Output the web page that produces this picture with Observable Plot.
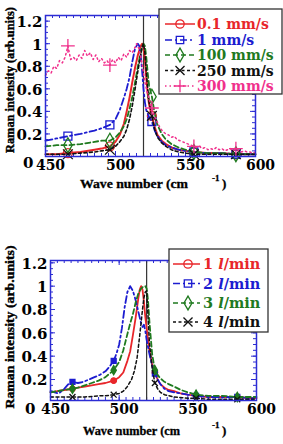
<!DOCTYPE html>
<html><head><meta charset="utf-8">
<script src="https://cdn.jsdelivr.net/npm/d3@7"></script>
<script src="https://cdn.jsdelivr.net/npm/@observablehq/plot@0.6"></script>
<style>
body{margin:0;background:#fff}
#wrap{position:relative;width:283px;height:444px;overflow:hidden;background:#fff}
.pl{position:absolute;left:0}
svg{display:block}
</style>
</head><body>
<div id="wrap"><div id="p1" class="pl" style="top:0"></div><div id="p2" class="pl" style="top:220px"></div></div>
<script>
// ---------- data ----------
const markerX = [466, 496, 526, 556, 586];
const xTicks = [450, 500, 550, 600];
const yTicks = [0.2, 0.4, 0.6, 0.8, 1, 1.2];
const peakLine = [520];

const topLabels = ["0.1 mm/s", "1 mm/s", "100 mm/s", "250 mm/s", "300 mm/s"];
const botLabels = ["1 l/min", "2 l/min", "3 l/min", "4 l/min"];

const speed01 = [[450,0.02],[458,0.02],[466,0.03],[475,0.04],[485,0.06],[490,0.07],[496,0.09],[500,0.13],[503,0.19],[506,0.29],[508,0.4],[510,0.52],[512,0.66],[514,0.79],[516,0.9],[518,0.98],[519,1.0],[520,0.97],[521,0.86],[522,0.7],[523,0.56],[524,0.46],[526,0.36],[528,0.26],[530,0.19],[533,0.14],[536,0.11],[540,0.08],[545,0.06],[550,0.05],[556,0.04],[565,0.03],[575,0.03],[586,0.02],[600,0.02]];
const speed1 = [[450,0.14],[458,0.16],[466,0.18],[475,0.2],[485,0.23],[490,0.25],[496,0.28],[500,0.33],[503,0.41],[506,0.52],[508,0.6],[510,0.7],[512,0.84],[514,0.96],[516,1.0],[517,0.98],[518,0.9],[519,0.76],[520,0.6],[521,0.48],[522,0.41],[524,0.35],[526,0.31],[528,0.23],[530,0.18],[533,0.13],[536,0.1],[540,0.08],[545,0.06],[550,0.05],[556,0.04],[565,0.03],[575,0.03],[586,0.02],[600,0.02]];
const speed100 = [[450,0.09],[458,0.1],[466,0.1],[475,0.11],[485,0.13],[490,0.14],[496,0.14],[500,0.17],[503,0.21],[506,0.27],[508,0.33],[510,0.42],[512,0.53],[514,0.66],[516,0.8],[518,0.92],[519,0.97],[520,1.0],[521,0.98],[522,0.88],[523,0.74],[524,0.63],[526,0.53],[528,0.38],[530,0.28],[533,0.2],[536,0.15],[540,0.11],[545,0.08],[550,0.06],[556,0.04],[565,0.03],[575,0.03],[586,0.02],[600,0.02]];
const speed250 = [[450,0.02],[458,0.02],[466,0.02],[475,0.03],[485,0.04],[490,0.05],[496,0.06],[500,0.09],[503,0.13],[506,0.18],[508,0.24],[510,0.33],[512,0.45],[514,0.6],[516,0.76],[518,0.9],[519,0.97],[520,1.0],[521,0.92],[522,0.75],[523,0.6],[524,0.48],[526,0.36],[528,0.24],[530,0.17],[533,0.12],[536,0.09],[540,0.06],[545,0.04],[550,0.03],[556,0.02],[565,0.02],[575,0.02],[586,0.02],[600,0.02]];
const speed300 = [[450,0.72],[452,0.76],[454,0.74],[456,0.8],[458,0.78],[460,0.85],[462,0.83],[464,0.88],[466,0.98],[468,0.86],[470,0.88],[472,0.85],[474,0.9],[476,0.87],[478,0.94],[480,0.89],[482,0.92],[484,0.86],[486,0.9],[488,0.84],[490,0.87],[492,0.83],[494,0.85],[496,0.81],[498,0.86],[500,0.83],[502,0.88],[504,0.85],[506,0.91],[508,0.88],[510,0.94],[512,0.92],[514,0.97],[515,1.0],[517,0.95],[519,0.82],[521,0.66],[523,0.55],[525,0.47],[526,0.43],[528,0.35],[530,0.3],[532,0.25],[534,0.22],[536,0.2],[538,0.19],[540,0.17],[542,0.18],[544,0.15],[546,0.14],[548,0.13],[550,0.12],[552,0.11],[554,0.1],[556,0.09],[558,0.08],[560,0.09],[562,0.07],[564,0.08],[566,0.06],[568,0.07],[570,0.06],[572,0.08],[574,0.06],[576,0.07],[578,0.05],[580,0.06],[582,0.07],[584,0.05],[586,0.07],[588,0.05],[590,0.04],[592,0.05],[594,0.04],[596,0.04],[598,0.03],[600,0.04]];

const flow1 = [[450,0.09],[455,0.1],[460,0.11],[466,0.12],[470,0.13],[475,0.14],[480,0.15],[485,0.16],[490,0.17],[496,0.19],[500,0.22],[503,0.26],[506,0.36],[508,0.44],[510,0.58],[512,0.73],[514,0.9],[515,0.97],[516,1.0],[517,0.97],[518,0.87],[519,0.74],[520,0.64],[522,0.45],[524,0.33],[526,0.26],[528,0.2],[530,0.16],[533,0.13],[536,0.11],[540,0.1],[545,0.08],[550,0.07],[556,0.06],[565,0.05],[575,0.05],[586,0.05],[595,0.04],[600,0.04]];
const flow2 = [[450,0.1],[453,0.09],[456,0.08],[460,0.12],[463,0.16],[466,0.18],[470,0.17],[474,0.18],[478,0.2],[482,0.22],[486,0.24],[490,0.27],[493,0.31],[496,0.36],[498,0.42],[500,0.5],[502,0.64],[504,0.82],[506,0.95],[508,1.0],[510,0.96],[512,0.88],[514,0.78],[516,0.68],[517,0.65],[518,0.67],[519,0.62],[520,0.54],[522,0.42],[524,0.32],[526,0.25],[528,0.2],[530,0.16],[533,0.12],[536,0.1],[540,0.09],[545,0.08],[550,0.07],[556,0.06],[565,0.05],[575,0.05],[586,0.05],[595,0.04],[600,0.04]];
const flow3 = [[450,0.09],[455,0.1],[460,0.11],[466,0.12],[470,0.13],[475,0.15],[480,0.17],[485,0.19],[490,0.22],[496,0.28],[500,0.35],[503,0.45],[506,0.59],[508,0.68],[510,0.76],[512,0.86],[514,0.94],[516,0.98],[518,1.0],[519,1.0],[520,0.98],[521,0.88],[522,0.7],[524,0.42],[526,0.28],[528,0.24],[530,0.21],[533,0.18],[536,0.16],[540,0.14],[545,0.11],[550,0.09],[556,0.07],[565,0.06],[575,0.06],[586,0.05],[595,0.05],[600,0.05]];
const flow4 = [[450,0.05],[458,0.05],[466,0.05],[475,0.05],[485,0.06],[490,0.06],[496,0.07],[500,0.08],[503,0.1],[506,0.14],[509,0.2],[511,0.27],[513,0.38],[515,0.58],[517,0.8],[518,0.9],[519,0.95],[520,0.96],[521,0.75],[522,0.52],[524,0.3],[526,0.17],[528,0.12],[530,0.09],[533,0.07],[540,0.05],[550,0.04],[556,0.04],[565,0.03],[575,0.03],[586,0.03],[600,0.03]];

// ---------- styles ----------
const FRAME = "#2c2cd4";
const COL = {red:"#e8262a", blue:"#1c1cd0", green:"#1f7a1f", black:"#111111", pink:"#f0308c"};
const TICKFONT = "DejaVu Serif";
const topSeries = [
  {label: topLabels[0], data: speed01,  color: COL.red,   dash: null,        symbol: "circle",  w: 2},
  {label: topLabels[1], data: speed1,   color: COL.blue,  dash: "7,3,2,3",   symbol: "square",  w: 1.8},
  {label: topLabels[2], data: speed100, color: COL.green, dash: "5,3",       symbol: "diamond", w: 1.8},
  {label: topLabels[3], data: speed250, color: COL.black, dash: "3,2.5",     symbol: "times",   w: 1.6},
  {label: topLabels[4], data: speed300, color: COL.pink,  dash: "1.5,3",     symbol: "plus",    w: 1.5}
];
const botSeries = [
  {label: botLabels[0], data: flow1, color: COL.red,   dash: null,      symbol: "circle",  w: 1.8},
  {label: botLabels[1], data: flow2, color: COL.blue,  dash: "7,3,2,3", symbol: "square",  w: 1.8},
  {label: botLabels[2], data: flow3, color: COL.green, dash: "5,3",     symbol: "diamond", w: 1.8},
  {label: botLabels[3], data: flow4, color: COL.black, dash: "3,2.5",   symbol: "times",   w: 1.5}
];

function panel(o) {
  const fw = o.width - o.ml - o.mr, fh = o.height - o.mt - o.mb;
  const xMinor = d3.range(455, 600, 5);
  const yMinor = d3.range(0.05, o.yDomain[1], 0.05);
  const tickStyle = {stroke: FRAME, strokeWidth: 1};
  const marks = [
    Plot.tickX(xMinor, {x: d => d, insetTop: fh - 3, ...tickStyle}),
    Plot.tickX(xMinor, {x: d => d, insetBottom: fh - 3, ...tickStyle}),
    Plot.tickX(xTicks, {x: d => d, insetTop: fh - 5, ...tickStyle}),
    Plot.tickX(xTicks, {x: d => d, insetBottom: fh - 5, ...tickStyle}),
    Plot.tickY(yMinor, {y: d => d, insetRight: fw - 3, ...tickStyle}),
    Plot.tickY(yMinor, {y: d => d, insetLeft: fw - 3, ...tickStyle}),
    Plot.tickY(yTicks, {y: d => d, insetRight: fw - 5, ...tickStyle}),
    Plot.tickY(yTicks, {y: d => d, insetLeft: fw - 5, ...tickStyle}),
    Plot.ruleX(peakLine, {x: d => d, stroke: "#333", strokeWidth: 1.2})
  ];
  o.series.forEach(s => {
    marks.push(Plot.line(s.data, {x: d => d[0], y: d => d[1], stroke: s.color, strokeWidth: s.w, strokeDasharray: s.dash}));
    marks.push(Plot.dot(s.data.filter(d => markerX.includes(d[0])), {
      x: d => d[0], y: d => d[1], symbol: () => s.symbol, r: o.markerR,
      stroke: s.color, strokeWidth: 1.3, fill: o.filled ? s.color : "none"
    }));
  });
  const font = {fontFamily: TICKFONT, fontWeight: "bold", fill: "#000", label: null, tickFormat: d => String(d)};
  marks.push(
    Plot.frame({stroke: FRAME, strokeWidth: 1.5}),
    Plot.axisX(xTicks, {tickSize: 0, tickPadding: 4, dx: 5, fontSize: 14, ...font}),
    Plot.axisY(yTicks, {tickSize: 0, tickPadding: 3, dy: 1, fontSize: 15, ...font}),
    Plot.axisY([0], {tickSize: 0, tickPadding: o.zeroPad, dy: o.zeroDy, fontSize: 15, ...font})
  );
  return Plot.plot({
    width: o.width, height: o.height,
    marginTop: o.mt, marginRight: o.mr, marginBottom: o.mb, marginLeft: o.ml,
    x: {domain: [450, 600]},
    y: {domain: o.yDomain},
    style: {background: "transparent", overflow: "visible"},
    marks
  });
}

document.getElementById("p1").append(panel({
  width: 283, height: 220, mt: 15, mr: 28, mb: 64, ml: 45,
  yDomain: [0, 1.25], series: topSeries, markerR: 4.5, filled: false, zeroPad: 12, zeroDy: 7
}));
document.getElementById("p2").append(panel({
  width: 283, height: 224, mt: 40, mr: 27, mb: 44, ml: 50,
  yDomain: [0.02, 1.22], series: botSeries, markerR: 2.8, filled: true, zeroPad: 15, zeroDy: 6
}));

// ---------- overlay: axis titles and legends ----------
const ov = d3.select("#wrap").append("svg")
  .attr("width", 283).attr("height", 444)
  .style("position", "absolute").style("left", 0).style("top", 0);

const symMap = {circle: d3.symbolCircle, square: d3.symbolSquare, diamond: d3.symbolDiamond, times: d3.symbolTimes, plus: d3.symbolPlus};

function yTitle(cx, cy, len) {
  ov.append("text").attr("transform", `translate(${cx},${cy}) rotate(-90)`)
    .attr("text-anchor", "middle").attr("dominant-baseline", "central")
    .attr("font-family", "Liberation Serif").attr("font-weight", "bold").attr("font-size", 13)
    .attr("stroke", "#000").attr("stroke-width", 0.4)
    .attr("textLength", len).attr("lengthAdjust", "spacingAndGlyphs")
    .text("Raman intensity (arb.units)");
}
function xTitle(x, base, len) {
  const f = s => s.attr("font-family", "Liberation Serif").attr("font-weight", "bold").attr("fill", "#000")
    .attr("stroke", "#000").attr("stroke-width", 0.3);
  f(ov.append("text")).attr("x", x).attr("y", base).attr("font-size", 13)
    .attr("textLength", len).attr("lengthAdjust", "spacingAndGlyphs").text("Wave number (cm");
  f(ov.append("text")).attr("x", 212).attr("y", base - 7).attr("font-size", 9).text("-1");
  f(ov.append("text")).attr("x", 222).attr("y", base).attr("font-size", 13).text(")");
}
yTitle(9, 80, 146);
yTitle(9, 327, 163);
xTitle(80, 188, 108);
xTitle(83, 435, 97);

function legend(box, series, italicL) {
  const g = ov.append("g");
  g.append("rect").attr("x", box.x).attr("y", box.y).attr("width", box.w).attr("height", box.h)
    .attr("fill", "#fff").attr("stroke", "#333").attr("stroke-width", 1.3);
  series.forEach((s, i) => {
    const y = box.rows[i];
    g.append("line").attr("x1", box.lx1).attr("x2", box.lx2).attr("y1", y).attr("y2", y)
      .attr("stroke", s.color).attr("stroke-width", 1.5).attr("stroke-dasharray", s.dash);
    g.append("path").attr("d", d3.symbol(symMap[s.symbol], 55)())
      .attr("transform", `translate(${box.mx},${y})`).attr("fill", "none")
      .attr("stroke", s.color).attr("stroke-width", 1.3);
    const t = g.append("text").attr("x", box.tx).attr("y", y + 5).attr("fill", s.color)
      .attr("font-family", TICKFONT).attr("font-weight", "bold").attr("font-size", box.fs);
    if (italicL) {
      const [num, rest] = s.label.split(" ");
      t.append("tspan").text(num + " ");
      t.append("tspan").attr("font-style", "italic").text(rest[0]);
      t.append("tspan").text(rest.slice(1));
    } else {
      t.text(s.label);
    }
  });
}
legend({x: 159, y: 9, w: 123, h: 85, rows: [24, 40, 55, 70.5, 86], lx1: 165, lx2: 195, mx: 180, tx: 197, fs: 14}, topSeries, false);
legend({x: 169, y: 249, w: 99, h: 83, rows: [264, 283.5, 303, 322], lx1: 173, lx2: 200, mx: 188, tx: 203, fs: 14.5}, botSeries, true);
</script>
</body></html>
